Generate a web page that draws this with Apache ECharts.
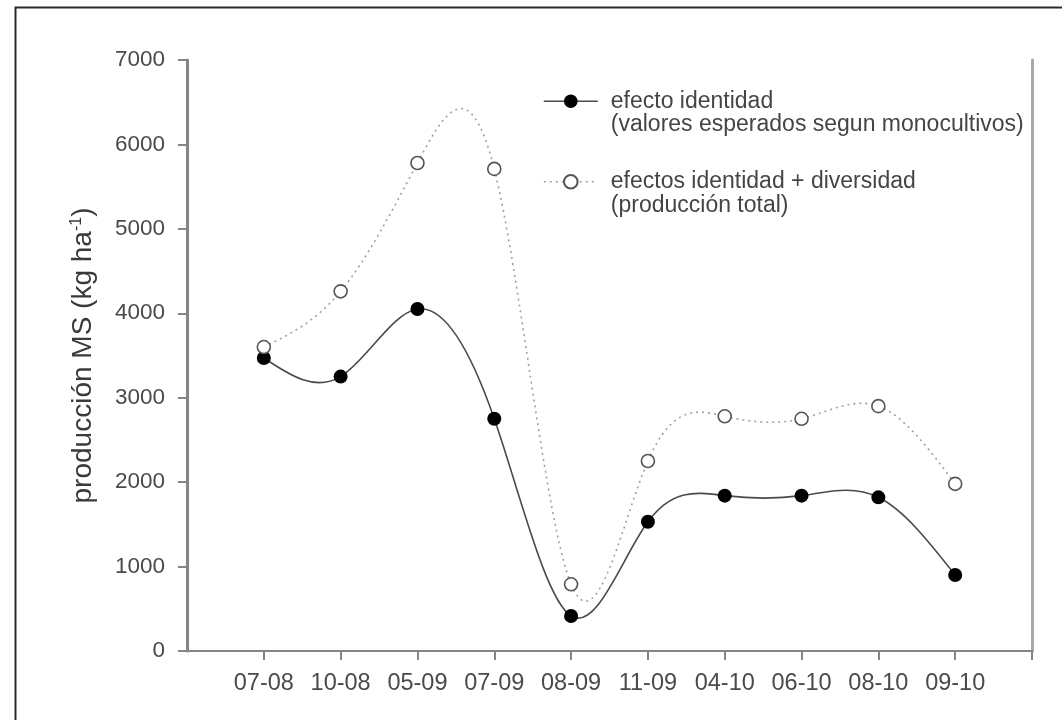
<!DOCTYPE html>
<html><head><meta charset="utf-8">
<script src="https://cdn.jsdelivr.net/npm/echarts@6/dist/echarts.min.js"></script>
<style>html,body{margin:0;padding:0;background:#fff}#c{width:1062px;height:720px}</style>
</head><body><div id="c"></div>
<script>
const categories = ['07-08','10-08','05-09','07-09','08-09','11-09','04-10','06-10','08-10','09-10'];
const efectoIdentidad = [3470, 3250, 4050, 2750, 415, 1530, 1840, 1840, 1820, 900];
const produccionTotal = [3600, 4260, 5780, 5710, 790, 2250, 2780, 2750, 2900, 1980];
const seriesNames = [
  'efecto identidad\n(valores esperados segun monocultivos)',
  'efectos identidad + diversidad\n(producción total)'
];
const yMin = 0, yMax = 7000, yStep = 1000;
const yName = 'producción MS (kg ha{sup|-1})';

const FONT = "'Liberation Sans', Arial, sans-serif";
const axisData = [''].concat(categories, ['']);
const toPts = vals => vals.map((v, i) => [i + 1, v]);

const solidStyle = {color: '#4a4a4a', width: 1.6, type: 'solid'};
const dotStyle = {color: '#a0a0a0', width: 1.6, type: [2, 4]};

// natural cubic spline drawn through the points (pixel space, via api.coord)
function splineRenderer(vals, ls) {
  return function (params, api) {
    if (params.dataIndex !== 0) return null;
    const p = vals.map((v, i) => api.coord([i + 1, v]));
    const n = p.length;
    const h = [];
    for (let i = 0; i < n - 1; i++) h.push(p[i + 1][0] - p[i][0]);
    const M = new Array(n).fill(0);
    const a = [], b = [], c = [], d = [];
    for (let i = 1; i < n - 1; i++) {
      a.push(h[i - 1]); b.push(2 * (h[i - 1] + h[i])); c.push(h[i]);
      d.push(6 * ((p[i + 1][1] - p[i][1]) / h[i] - (p[i][1] - p[i - 1][1]) / h[i - 1]));
    }
    const m = b.length;
    for (let i = 1; i < m; i++) {
      const w = a[i] / b[i - 1];
      b[i] -= w * c[i - 1]; d[i] -= w * d[i - 1];
    }
    const x = new Array(m);
    x[m - 1] = d[m - 1] / b[m - 1];
    for (let i = m - 2; i >= 0; i--) x[i] = (d[i] - c[i] * x[i + 1]) / b[i];
    for (let i = 0; i < m; i++) M[i + 1] = x[i];
    const children = [];
    for (let i = 0; i < n - 1; i++) {
      const hh = h[i], y0 = p[i][1], y1 = p[i + 1][1];
      const s = (y1 - y0) / hh - hh * (2 * M[i] + M[i + 1]) / 6;
      const e = (y1 - y0) / hh + hh * (M[i] + 2 * M[i + 1]) / 6;
      children.push({
        type: 'bezierCurve',
        shape: {
          x1: p[i][0], y1: y0, x2: p[i + 1][0], y2: y1,
          cpx1: p[i][0] + hh / 3, cpy1: y0 + s * hh / 3,
          cpx2: p[i + 1][0] - hh / 3, cpy2: y1 - e * hh / 3
        },
        style: {fill: null, stroke: ls.color, lineWidth: ls.width, lineDash: ls.type === 'solid' ? null : ls.type}
      });
    }
    return {type: 'group', children: children};
  };
}

const chart = echarts.init(document.getElementById('c'), null, {renderer: 'canvas'});
chart.setOption({
  backgroundColor: '#fff',
  animation: false,
  graphic: [{
    type: 'polyline',
    shape: {points: [[15.5, 720], [15.5, 7.5], [1062, 7.5]]},
    style: {stroke: '#2a2a2a', lineWidth: 2, fill: null},
    silent: true
  }],
  grid: {left: 187, right: 30, top: 60, bottom: 69, containLabel: false, outerBoundsMode: 'none'},
  legend: {
    orient: 'vertical',
    left: 543, top: 66,
    padding: 0,
    itemGap: 10,
    itemWidth: 54,
    itemHeight: 17,
    data: [
      {name: seriesNames[0], lineStyle: Object.assign({opacity: 1}, solidStyle)},
      {name: seriesNames[1], lineStyle: Object.assign({opacity: 1}, dotStyle)}
    ],
    formatter: n => '\n' + n,
    textStyle: {fontFamily: FONT, fontSize: 23, lineHeight: 23.5, color: '#454545', padding: [0, 0, 0, 8]}
  },
  xAxis: [{
    type: 'category',
    data: axisData,
    boundaryGap: false,
    axisLine: {show: true, lineStyle: {color: '#858585', width: 2}},
    axisTick: {show: true, length: 9, interval: (i) => i > 0, lineStyle: {color: '#858585', width: 2}},
    axisLabel: {interval: 0, margin: 21, fontFamily: FONT, fontSize: 23.5, color: '#4a4a4a'},
    splitLine: {show: false}
  }, {
    type: 'category',
    data: axisData,
    boundaryGap: false,
    position: 'top',
    axisLine: {show: true, lineStyle: {color: '#858585', width: 2}},
    axisTick: {show: false}, axisLabel: {show: false}, splitLine: {show: false}
  }],
  yAxis: [{
    type: 'value',
    min: yMin, max: yMax, interval: yStep,
    name: yName,
    nameLocation: 'middle',
    nameGap: 90,
    nameRotate: 90,
    nameTextStyle: {fontFamily: FONT, fontSize: 28, color: '#3a3a3a',
      rich: {sup: {fontFamily: FONT, fontSize: 16, color: '#3a3a3a', verticalAlign: 'top', padding: [0, 0, 12, 0]}}},
    axisLine: {show: true, lineStyle: {color: '#858585', width: 3}},
    axisTick: {show: true, length: 9, lineStyle: {color: '#858585', width: 2}},
    axisLabel: {margin: 22, fontFamily: FONT, fontSize: 22.5, color: '#4a4a4a', formatter: v => String(v)},
    splitLine: {show: false}
  }, {
    type: 'value',
    min: yMin, max: yMax, interval: yStep,
    position: 'right',
    axisLine: {show: true, lineStyle: {color: '#a8a8a8', width: 3}},
    axisTick: {show: false}, axisLabel: {show: false}, splitLine: {show: false}
  }],
  series: [{
    name: seriesNames[0],
    type: 'line',
    data: toPts(efectoIdentidad),
    symbol: 'circle',
    symbolSize: 14,
    z: 4,
    lineStyle: Object.assign({opacity: 0}, solidStyle),
    itemStyle: {color: '#000', borderColor: '#000', borderWidth: 0}
  }, {
    name: seriesNames[1],
    type: 'line',
    data: toPts(produccionTotal),
    symbol: 'circle',
    symbolSize: 13,
    z: 4,
    lineStyle: Object.assign({opacity: 0}, dotStyle),
    itemStyle: {color: '#fff', borderColor: '#555', borderWidth: 1.6}
  }, {
    name: 'curva identidad',
    type: 'custom',
    data: toPts(efectoIdentidad),
    renderItem: splineRenderer(efectoIdentidad, solidStyle),
    z: 3, silent: true
  }, {
    name: 'curva total',
    type: 'custom',
    data: toPts(produccionTotal),
    renderItem: splineRenderer(produccionTotal, dotStyle),
    z: 2, silent: true
  }]
});
</script></body></html>
